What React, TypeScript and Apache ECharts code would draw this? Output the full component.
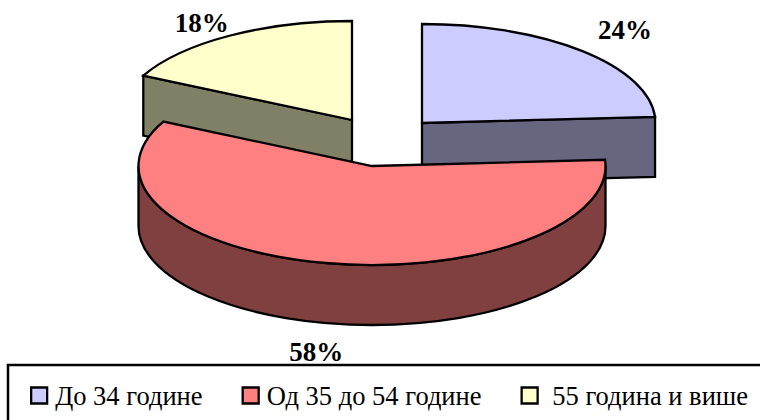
import React, { useEffect, useRef } from "react";
import * as echarts from "echarts";

const categories = ["До 34 године", "Од 35 до 54 године", "55 година и више"];
const values = [24, 58.4, 17.6];
const topColors = ["#CCCCFF", "#FF8080", "#FFFFCC"];
const sideColors = ["#666680", "#804040", "#808066"];

const RX = 233.5;
const RY = 99;
const DEPTH = 60;
const SERIF = "Liberation Serif, Times New Roman, serif";
// per-slice layout: slice centre, distance factors of the label, and whether measured from the base
const layouts = [
  { cx: 422, cy: 123, kx: 1.27, ky: 1.29, base: 0, z: 2 },
  { cx: 372, cy: 166, kx: 1.196, ky: 1.3, base: 1, z: 3 },
  { cx: 352, cy: 120, kx: 1.225, ky: 1.15, base: 0, z: 2 },
];

const total = values.reduce((a, b) => a + b, 0);

function makeRenderItem(i: number) {
  return () => {
    const before = values.slice(0, i).reduce((a, b) => a + b, 0);
    const s = (before / total) * 360;
    const e = ((before + values[i]) / total) * 360;
    const { cx, cy, kx, ky, base } = layouts[i];
    const rad = (d: number) => (d * Math.PI) / 180;
    const pt = (d: number, dy = 0) => [
      cx + RX * Math.sin(rad(d)),
      cy - RY * Math.cos(rad(d)) + dy,
    ];
    const arc = (to: number[], large: number, sweep: number) =>
      `A${RX} ${RY} 0 ${large} ${sweep} ${to[0]} ${to[1]}`;
    const face = (pathData: string, fill: string) => ({
      type: "path",
      shape: { pathData },
      style: { fill, stroke: "#000", lineWidth: 2.3, lineJoin: "miter" },
    });
    const children: any[] = [];
    // visible cut faces
    const cut = (d: number) => {
      const p = pt(d);
      return `M${cx} ${cy}L${p[0]} ${p[1]}L${p[0]} ${p[1] + DEPTH}L${cx} ${cy + DEPTH}Z`;
    };
    const showsEnd = e > 0 && e < 180;
    const showsStart = s > 180 && s < 360;
    if (showsEnd) children.push(face(cut(e), sideColors[i]));
    if (showsStart) children.push(face(cut(s), sideColors[i]));
    // visible outer wall
    const w0 = Math.max(s, 90);
    const w1 = Math.min(e, 270);
    if (w1 > w0) {
      const a = pt(w0);
      const b = pt(w1);
      const bd = pt(w1, DEPTH);
      const ad = pt(w0, DEPTH);
      children.push(
        face(
          `M${a[0]} ${a[1]}${arc(b, w1 - w0 > 180 ? 1 : 0, 1)}L${bd[0]} ${bd[1]}${arc(ad, w1 - w0 > 180 ? 1 : 0, 0)}Z`,
          sideColors[i],
        ),
      );
    }
    // top surface
    const ps = pt(s);
    const pe = pt(e);
    children.push(
      face(
        `M${cx} ${cy}L${ps[0]} ${ps[1]}${arc(pe, e - s > 180 ? 1 : 0, 1)}Z`,
        topColors[i],
      ),
    );
    // percentage label
    const mid = (s + e) / 2;
    children.push({
      type: "text",
      style: {
        text: `${Math.round(values[i])}%`,
        x: cx + RX * kx * Math.sin(rad(mid)),
        y: cy - RY * ky * Math.cos(rad(mid)) + base * DEPTH,
        align: "center",
        verticalAlign: "middle",
        fontFamily: SERIF,
        fontWeight: "bold",
        fontSize: 27,
        fill: "#000",
      },
    });
    return { type: "group", children };
  };
}

export default function App() {
  const ref = useRef<HTMLDivElement>(null);
  useEffect(() => {
    const chart = echarts.init(ref.current!, undefined, { renderer: "svg" });
    chart.setOption({
      animation: false,
      backgroundColor: "#fff",
      textStyle: { fontFamily: SERIF },
      legend: {
        left: 30,
        top: 382,
        padding: 0,
        icon: "rect",
        itemWidth: 16,
        itemHeight: 16,
        itemGap: 39,
        selectedMode: false,
        textStyle: { fontFamily: SERIF, fontSize: 26.5, color: "#000", padding: [0, 0, 0, 3] },
        itemStyle: { borderColor: "#000", borderWidth: 2.3 },
        formatter: (name: string) => (name === categories[2] ? "\u00a0" + name : name),
        data: categories.map((name, i) => ({
          name,
          itemStyle: { color: topColors[i], borderColor: "#000", borderWidth: 2.3 },
        })),
      },
      graphic: [
        {
          type: "rect",
          shape: { x: 8, y: 365, width: 780, height: 90 },
          style: { fill: "none", stroke: "#000", lineWidth: 2.5 },
        },
      ],
      series: categories.map((name, i) => ({
        type: "custom",
        name,
        coordinateSystem: "none",
        z: layouts[i].z,
        silent: true,
        itemStyle: { color: topColors[i] },
        data: [values[i]],
        renderItem: makeRenderItem(i),
      })),
    });
    return () => chart.dispose();
  }, []);
  return (
    <div
      ref={ref}
      style={{ position: "absolute", left: 0, top: 0, width: 760, height: 420, overflow: "hidden" }}
    />
  );
}
